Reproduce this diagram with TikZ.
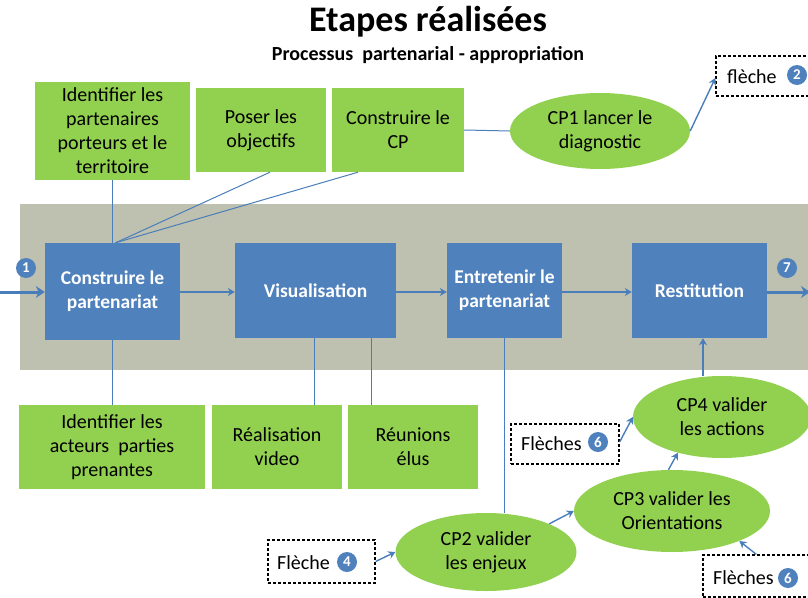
\documentclass[tikz,border=0pt]{standalone}
\usepackage{fontspec}
\setmainfont{Carlito}
\usetikzlibrary{arrows.meta,shapes.geometric,calc}
\definecolor{bblue}{RGB}{79,129,189}
\definecolor{ggreen}{RGB}{146,208,80}
\definecolor{bandc}{RGB}{190,192,176}
\definecolor{lblue}{RGB}{74,126,187}
\begin{document}
\begin{tikzpicture}[x=1pt,y=-1pt,
  bbox/.style={fill=bblue, draw=none, align=center, inner sep=0, text=white,
    font=\bfseries\fontsize{19.5}{24}\selectfont},
  gbox/.style={fill=ggreen, draw=none, align=center, inner sep=0,
    font=\fontsize{20}{24}\selectfont},
  ell/.style={ellipse, fill=ggreen, draw=none, align=center, inner sep=0,
    font=\fontsize{20}{24}\selectfont},
  dbox/.style={draw=black, dash pattern=on 3pt off 2pt, line width=1.3pt, inner sep=0},
  txt/.style={inner sep=0, font=\fontsize{20}{24}\selectfont, anchor=west},
  numc/.style={circle, fill=bblue, text=white, inner sep=0, minimum size=20pt,
    font=\bfseries\fontsize{15}{15}\selectfont},
  conn/.style={draw=lblue, line width=1pt},
  arr/.style={draw=lblue, line width=1.4pt, -{Stealth[length=7pt,width=8pt]}},
  bigarr/.style={draw=lblue, line width=3pt, -{Stealth[length=9pt,width=12pt]}}]
\path[use as bounding box] (0,0) rectangle (808,597);
\clip (0,0) rectangle (808,597);
% title
\node[font=\bfseries\fontsize{36}{40}\selectfont] (title) at (428,22) {Etapes réalisées};
\node[font=\bfseries\fontsize{20}{22}\selectfont] (sub) at (428,55) {Processus\ \ partenarial - appropriation};
% band
\fill[bandc] (20,204) rectangle (830,370);
% blue boxes
\node[bbox, minimum width=135pt, minimum height=97pt] (b1) at (112.5,291.5) {Construire le\\partenariat};
\node[bbox, minimum width=161pt, minimum height=95pt] (b2) at (315.5,290.5) {Visualisation};
\node[bbox, minimum width=115pt, minimum height=95pt] (b3) at (504.5,290.5) {Entretenir le\\partenariat};
\node[bbox, minimum width=135pt, minimum height=95pt] (b4) at (699.5,290.5) {Restitution};
% green boxes
\node[gbox, minimum width=155pt, minimum height=98pt] (g1) at (112.5,131) {Identifier les\\partenaires\\porteurs et le\\territoire};
\node[gbox, minimum width=130pt, minimum height=84pt] (g2) at (261,130) {Poser les\\objectifs};
\node[gbox, minimum width=132pt, minimum height=84pt] (g3) at (398,130) {Construire le\\CP};
\node[gbox, minimum width=186pt, minimum height=84pt] (g4) at (112,447) {Identifier les\\acteurs\ \ parties\\prenantes};
\node[gbox, minimum width=130pt, minimum height=84pt] (g5) at (277,447) {Réalisation\\video};
\node[gbox, minimum width=130pt, minimum height=84pt] (g6) at (413,447) {Réunions\\élus};
% ellipses
\node[ell, minimum width=180pt, minimum height=76pt] (e1) at (600,131) {CP1 lancer le\\diagnostic};
\node[ell, minimum width=181pt, minimum height=78pt] (e2) at (486,552) {CP2 valider\\les enjeux};
\node[ell, minimum width=196pt, minimum height=82pt] (e3) at (672,511) {CP3 valider les\\Orientations};
\node[ell, minimum width=178pt, minimum height=82pt] (e4) at (722,417) {CP4 valider\\les actions};
% dashed boxes
\node[dbox, minimum width=100pt, minimum height=40pt] (d1) at (766,76) {};
\node[txt] at (727,77) {flèche};
\node[numc] (n2) at (797,75) {2};
\node[dbox, minimum width=108pt, minimum height=40pt] (d2) at (565,444) {};
\node[txt] at (521,444) {Flèches};
\node[numc] (n6a) at (598,442) {6};
\node[dbox, minimum width=107pt, minimum height=43pt] (d3) at (321.5,561.5) {};
\node[txt] at (277,563) {Flèche};
\node[numc] (n4) at (347,562) {4};
\node[dbox, minimum width=110pt, minimum height=42pt] (d4) at (758,576) {};
\node[txt] at (713,578) {Flèches};
\node[numc] (n6b) at (788,578) {6};
% circled numbers on main flow
\node[numc] (n1) at (26,268) {1};
\node[numc] (n7) at (787,268) {7};
\coordinate (entry) at (0,292);
\coordinate (exit) at (810,292);
% main flow
\draw[bigarr] (entry) -- (entry -| b1.west);
\draw[arr] (b1.east |- 0,292) -- (b2.west |- 0,292);
\draw[arr] (b2.east |- 0,292) -- (b3.west |- 0,292);
\draw[arr] (b3.east |- 0,292) -- (b4.west |- 0,292);
\draw[bigarr] (b4.east |- exit) -- (exit);
% top links
\draw[conn] (g1.south) -- (b1.north);
\draw[conn] ($(g2.south)+(9,0)$) -- ($(b1.north)+(3,0)$);
\draw[conn] ($(g3.south)+(-40,0)$) -- ($(b1.north)+(3,0)$);
\draw[conn] (g3.east) -- (e1.west);
\draw[arr] (e1.east) -- ($(d1.west)+(0,2)$);
% bottom links
\draw[conn] (b1.south) -- (b1.south |- g4.north);
\draw[conn] ([xshift=-1.5pt]b2.south) -- ([xshift=-1.5pt]b2.south |- g5.north);
\draw[conn] ([xshift=55.5pt]b2.south) -- ([xshift=55.5pt]b2.south |- g6.north);
\draw[conn] (b3.south) -- (b3.south |- e2.north);
\draw[arr] (d3.east) -- (e2.west);
\draw[arr] (e2.24) -- (e3.west);
\draw[arr] (e3.95) -- (e4.219);
\draw[arr] ($(d2.east)+(0,-2)$) -- (e4.west);
\draw[arr] ([xshift=3.5pt]b4.south |- e4.north) -- ([xshift=3.5pt]b4.south);
\draw[arr] ($(d4.north west)+(54,0)$) -- (e3.-24);
\end{tikzpicture}
\end{document}
